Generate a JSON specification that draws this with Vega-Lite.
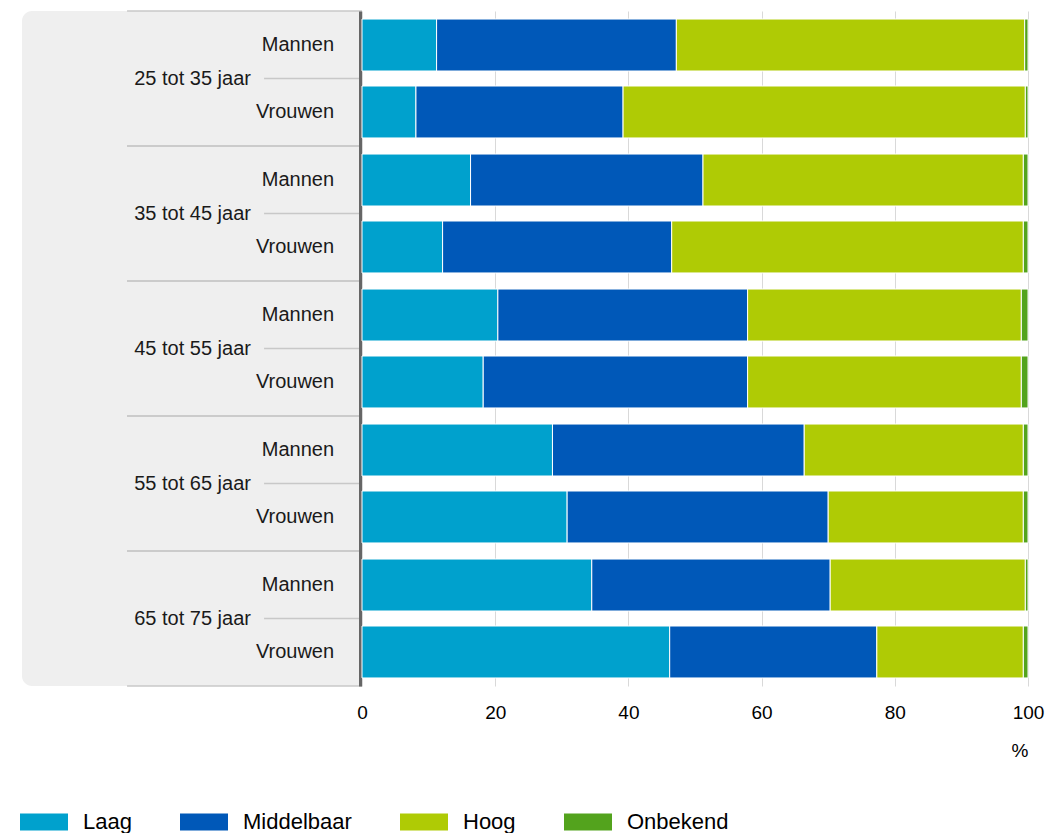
{
  "$schema": "https://vega.github.io/schema/vega-lite/v6.json",
  "padding": {"left": 20, "top": 10, "right": 20, "bottom": 0},
  "background": "white",
  "bounds": "flush",
  "spacing": 0,
  "config": {"font": "Liberation Sans", "view": {"stroke": null}},
  "datasets": {
    "niveaus": [
      {"niveau": "Laag", "rang": 1},
      {"niveau": "Middelbaar", "rang": 2},
      {"niveau": "Hoog", "rang": 3},
      {"niveau": "Onbekend", "rang": 4}
    ],
    "onderwijs": [
      {"leeftijd": "25 tot 35 jaar", "geslacht": "Mannen", "niveau": "Laag", "pct": 11.2},
      {"leeftijd": "25 tot 35 jaar", "geslacht": "Mannen", "niveau": "Middelbaar", "pct": 36.0},
      {"leeftijd": "25 tot 35 jaar", "geslacht": "Mannen", "niveau": "Hoog", "pct": 52.3},
      {"leeftijd": "25 tot 35 jaar", "geslacht": "Mannen", "niveau": "Onbekend", "pct": 0.5},
      {"leeftijd": "25 tot 35 jaar", "geslacht": "Vrouwen", "niveau": "Laag", "pct": 8.1},
      {"leeftijd": "25 tot 35 jaar", "geslacht": "Vrouwen", "niveau": "Middelbaar", "pct": 31.1},
      {"leeftijd": "25 tot 35 jaar", "geslacht": "Vrouwen", "niveau": "Hoog", "pct": 60.4},
      {"leeftijd": "25 tot 35 jaar", "geslacht": "Vrouwen", "niveau": "Onbekend", "pct": 0.4},
      {"leeftijd": "35 tot 45 jaar", "geslacht": "Mannen", "niveau": "Laag", "pct": 16.3},
      {"leeftijd": "35 tot 45 jaar", "geslacht": "Mannen", "niveau": "Middelbaar", "pct": 34.9},
      {"leeftijd": "35 tot 45 jaar", "geslacht": "Mannen", "niveau": "Hoog", "pct": 48.1},
      {"leeftijd": "35 tot 45 jaar", "geslacht": "Mannen", "niveau": "Onbekend", "pct": 0.7},
      {"leeftijd": "35 tot 45 jaar", "geslacht": "Vrouwen", "niveau": "Laag", "pct": 12.1},
      {"leeftijd": "35 tot 45 jaar", "geslacht": "Vrouwen", "niveau": "Middelbaar", "pct": 34.4},
      {"leeftijd": "35 tot 45 jaar", "geslacht": "Vrouwen", "niveau": "Hoog", "pct": 52.8},
      {"leeftijd": "35 tot 45 jaar", "geslacht": "Vrouwen", "niveau": "Onbekend", "pct": 0.7},
      {"leeftijd": "45 tot 55 jaar", "geslacht": "Mannen", "niveau": "Laag", "pct": 20.4},
      {"leeftijd": "45 tot 55 jaar", "geslacht": "Mannen", "niveau": "Middelbaar", "pct": 37.5},
      {"leeftijd": "45 tot 55 jaar", "geslacht": "Mannen", "niveau": "Hoog", "pct": 41.1},
      {"leeftijd": "45 tot 55 jaar", "geslacht": "Mannen", "niveau": "Onbekend", "pct": 1.0},
      {"leeftijd": "45 tot 55 jaar", "geslacht": "Vrouwen", "niveau": "Laag", "pct": 18.2},
      {"leeftijd": "45 tot 55 jaar", "geslacht": "Vrouwen", "niveau": "Middelbaar", "pct": 39.7},
      {"leeftijd": "45 tot 55 jaar", "geslacht": "Vrouwen", "niveau": "Hoog", "pct": 41.1},
      {"leeftijd": "45 tot 55 jaar", "geslacht": "Vrouwen", "niveau": "Onbekend", "pct": 1.0},
      {"leeftijd": "55 tot 65 jaar", "geslacht": "Mannen", "niveau": "Laag", "pct": 28.6},
      {"leeftijd": "55 tot 65 jaar", "geslacht": "Mannen", "niveau": "Middelbaar", "pct": 37.8},
      {"leeftijd": "55 tot 65 jaar", "geslacht": "Mannen", "niveau": "Hoog", "pct": 32.9},
      {"leeftijd": "55 tot 65 jaar", "geslacht": "Mannen", "niveau": "Onbekend", "pct": 0.7},
      {"leeftijd": "55 tot 65 jaar", "geslacht": "Vrouwen", "niveau": "Laag", "pct": 30.8},
      {"leeftijd": "55 tot 65 jaar", "geslacht": "Vrouwen", "niveau": "Middelbaar", "pct": 39.2},
      {"leeftijd": "55 tot 65 jaar", "geslacht": "Vrouwen", "niveau": "Hoog", "pct": 29.3},
      {"leeftijd": "55 tot 65 jaar", "geslacht": "Vrouwen", "niveau": "Onbekend", "pct": 0.7},
      {"leeftijd": "65 tot 75 jaar", "geslacht": "Mannen", "niveau": "Laag", "pct": 34.5},
      {"leeftijd": "65 tot 75 jaar", "geslacht": "Mannen", "niveau": "Middelbaar", "pct": 35.8},
      {"leeftijd": "65 tot 75 jaar", "geslacht": "Mannen", "niveau": "Hoog", "pct": 29.3},
      {"leeftijd": "65 tot 75 jaar", "geslacht": "Mannen", "niveau": "Onbekend", "pct": 0.4},
      {"leeftijd": "65 tot 75 jaar", "geslacht": "Vrouwen", "niveau": "Laag", "pct": 46.2},
      {"leeftijd": "65 tot 75 jaar", "geslacht": "Vrouwen", "niveau": "Middelbaar", "pct": 31.1},
      {"leeftijd": "65 tot 75 jaar", "geslacht": "Vrouwen", "niveau": "Hoog", "pct": 22.0},
      {"leeftijd": "65 tot 75 jaar", "geslacht": "Vrouwen", "niveau": "Onbekend", "pct": 0.7}
    ]
  },
  "data": {"name": "onderwijs"},
  "hconcat": [
    {
      "width": 340,
      "height": 675,
      "layer": [
        {
          "data": {"values": [{"paneel": "achtergrond"}]},
          "mark": {"type": "rect", "color": "#efefef", "cornerRadiusTopLeft": 10, "cornerRadiusBottomLeft": 10},
          "encoding": {
            "x": {"datum": 0, "type": "quantitative", "scale": {"domain": [0, 1], "nice": false, "zero": false}, "axis": null},
            "x2": {"datum": 1}
          }
        },
        {
          "transform": [{"filter": "datum.niveau == 'Laag' && datum.geslacht == 'Mannen'"}],
          "mark": {"type": "rule", "color": "#c8c8c8", "strokeWidth": 1.5},
          "encoding": {
            "y": {"field": "leeftijd", "type": "nominal", "bandPosition": 0, "axis": null,
                  "scale": {"domain": ["25 tot 35 jaar", "35 tot 45 jaar", "45 tot 55 jaar", "55 tot 65 jaar", "65 tot 75 jaar"], "paddingInner": 0, "paddingOuter": 0}},
            "x": {"datum": 0.309, "type": "quantitative"},
            "x2": {"datum": 1}
          }
        },
        {
          "transform": [{"filter": "datum.niveau == 'Laag' && datum.geslacht == 'Mannen'"}],
          "mark": {"type": "rule", "color": "#c8c8c8", "strokeWidth": 1.5},
          "encoding": {
            "y": {"field": "leeftijd", "type": "nominal", "bandPosition": 1},
            "x": {"datum": 0.309, "type": "quantitative"},
            "x2": {"datum": 1}
          }
        },
        {
          "transform": [{"filter": "datum.niveau == 'Laag' && datum.geslacht == 'Mannen'"}],
          "mark": {"type": "rule", "color": "#c8c8c8", "strokeWidth": 1.5},
          "encoding": {
            "y": {"field": "leeftijd", "type": "nominal", "bandPosition": 0.5},
            "x": {"datum": 0.712, "type": "quantitative"},
            "x2": {"datum": 1}
          }
        },
        {
          "transform": [{"filter": "datum.niveau == 'Laag' && datum.geslacht == 'Mannen'"}],
          "mark": {"type": "text", "align": "left", "baseline": "middle", "fontSize": 20, "color": "#1a1a1a"},
          "encoding": {
            "y": {"field": "leeftijd", "type": "nominal", "bandPosition": 0.5},
            "x": {"datum": 0.330, "type": "quantitative"},
            "text": {"field": "leeftijd"}
          }
        },
        {
          "transform": [{"filter": "datum.niveau == 'Laag'"}],
          "mark": {"type": "text", "align": "right", "baseline": "middle", "fontSize": 20, "color": "#1a1a1a"},
          "encoding": {
            "y": {"field": "leeftijd", "type": "nominal"},
            "yOffset": {"field": "geslacht", "type": "nominal", "scale": {"domain": ["Mannen", "Vrouwen"], "paddingInner": 0.224, "paddingOuter": 0.12}},
            "x": {"datum": 0.918, "type": "quantitative"},
            "text": {"field": "geslacht"}
          }
        }
      ]
    },
    {
      "width": 666,
      "height": 675,
      "transform": [
        {"lookup": "niveau", "from": {"data": {"name": "niveaus"}, "key": "niveau", "fields": ["rang"]}}
      ],
      "mark": {"type": "bar", "stroke": "white", "strokeWidth": 1},
      "encoding": {
        "y": {"field": "leeftijd", "type": "nominal",
              "scale": {"domain": ["25 tot 35 jaar", "35 tot 45 jaar", "45 tot 55 jaar", "55 tot 65 jaar", "65 tot 75 jaar"], "paddingInner": 0, "paddingOuter": 0},
              "axis": {"domain": true, "domainColor": "#666666", "domainWidth": 3, "offset": 2, "labels": false, "ticks": false, "title": null, "grid": false}},
        "yOffset": {"field": "geslacht", "type": "nominal", "scale": {"domain": ["Mannen", "Vrouwen"], "paddingInner": 0.224, "paddingOuter": 0.12}},
        "x": {"field": "pct", "type": "quantitative", "stack": "zero",
              "scale": {"domain": [0, 100], "nice": false},
              "axis": {"values": [0, 20, 40, 60, 80, 100], "grid": true, "gridColor": "#d9d9d9", "gridWidth": 1, "domain": false, "ticks": false,
                       "labelFlush": false, "labelFontSize": 19, "labelColor": "#000000", "labelPadding": 17, "title": "%", "titleFontSize": 19, "titleFontWeight": "normal",
                       "titleColor": "#000000", "titleAnchor": "end", "titleAlign": "right", "titlePadding": 19}},
        "order": {"field": "rang", "type": "quantitative", "sort": "ascending"},
        "color": {"field": "niveau", "type": "nominal",
                  "sort": ["Laag", "Middelbaar", "Hoog", "Onbekend"],
                  "scale": {"domain": ["Laag", "Middelbaar", "Hoog", "Onbekend"], "range": ["#00a1cd", "#0058b8", "#afcb05", "#53a31d"]},
                  "legend": {"orient": "none", "legendX": -2, "legendY": 787, "direction": "horizontal", "title": null,
                             "symbolType": "M-1,-0.35H1V0.35H-1Z", "symbolSize": 2304, "symbolStrokeWidth": 0, "symbolOpacity": 1,
                             "labelFontSize": 22, "labelOffset": 15, "columnPadding": 48, "labelColor": "#000000"}}
      }
    }
  ]
}
